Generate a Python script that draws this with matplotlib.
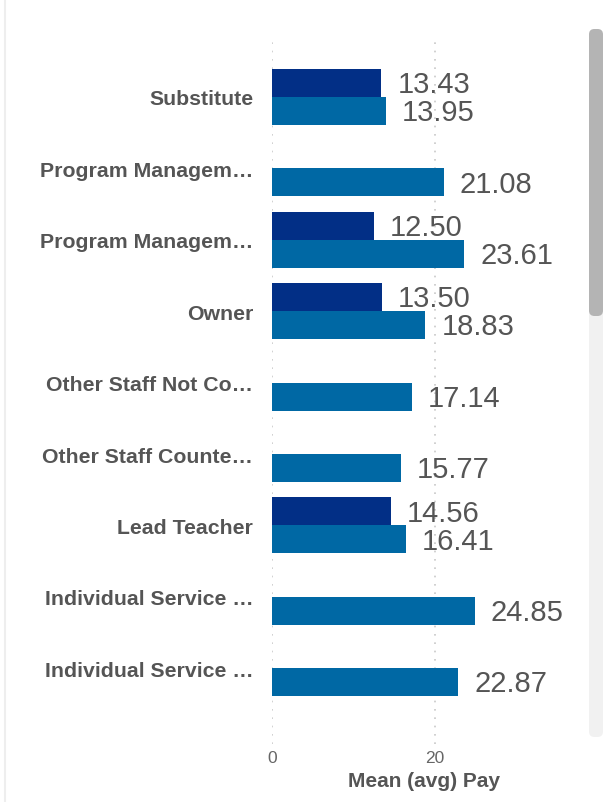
import numpy as np
import matplotlib
matplotlib.use("Agg")
import matplotlib.pyplot as plt
from matplotlib.patches import FancyBboxPatch
from matplotlib.lines import Line2D

plt.rcParams['font.family'] = ['Liberation Sans', 'DejaVu Sans']

categories = [
    "Substitute",
    "Program Managem…",
    "Program Managem…",
    "Owner",
    "Other Staff Not Co…",
    "Other Staff Counte…",
    "Lead Teacher",
    "Individual Service …",
    "Individual Service …",
]
series_a = [13.43, None, 12.50, 13.50, None, None, 14.56, None, None]
series_b = [13.95, 21.08, 23.61, 18.83, 17.14, 15.77, 16.41, 24.85, 22.87]
x_ticks = [0, 20]

color_a = "#022f86"
color_b = "#0068a4"
text_grey = "#555555"

W, H = 610, 803
fig = plt.figure(figsize=(W / 100, H / 100), dpi=100)
ax = fig.add_axes([272 / W, 1 - 745 / H, (575 - 272) / W, (745 - 38) / H])

pos = np.arange(len(categories))
bar_h = 0.392
off = 0.196

for i, (a, b) in enumerate(zip(series_a, series_b)):
    if a is not None:
        ax.barh(pos[i] - off, a, height=bar_h, color=color_a, zorder=2)
        ax.annotate(f"{a:.2f}", xy=(a, pos[i] - off), xytext=(11.5, -0.8),
                    textcoords="offset points", va="center", ha="left",
                    fontsize=21, color=text_grey)
    if b is not None:
        ax.barh(pos[i] + off, b, height=bar_h, color=color_b, zorder=2)
        ax.annotate(f"{b:.2f}", xy=(b, pos[i] + off), xytext=(11.5, -0.8),
                    textcoords="offset points", va="center", ha="left",
                    fontsize=21, color=text_grey)

ax.set_xlim(0, (575 - 272) / 8.15)
ax.set_ylim(9.06, -0.84)
ax.set_yticks(pos)
ax.set_yticklabels(categories, fontsize=15.3, fontweight="bold", color=text_grey)
ax.set_xticks(x_ticks)
ax.set_xticklabels([str(t) for t in x_ticks], fontsize=12.5, color="#666666")
ax.tick_params(axis="y", length=0, pad=13.5)
ax.tick_params(axis="x", length=0, pad=4)
for s in ax.spines.values():
    s.set_visible(False)
ax.grid(axis="x", color="#c8c8c8", linestyle=(0, (1, 4)), linewidth=1.2, zorder=0)
ax.set_axisbelow(True)
ax.set_xlabel("Mean (avg) Pay", fontsize=15, fontweight="bold", color=text_grey, labelpad=5)

# panel edge on the left
fig.add_artist(Line2D([5 / W, 5 / W], [0, 1], transform=fig.transFigure,
                      color="#eeeeee", linewidth=1.5))

# scrollbar track and thumb
track = FancyBboxPatch((589 / W, 1 - 738 / H), 14 / W, (738 - 30) / H,
                       boxstyle="round,pad=0,rounding_size=0.009",
                       transform=fig.transFigure, facecolor="#f1f1f1",
                       edgecolor="none", mutation_aspect=W / H)
thumb = FancyBboxPatch((589 / W, 1 - 317 / H), 14 / W, (317 - 30) / H,
                       boxstyle="round,pad=0,rounding_size=0.009",
                       transform=fig.transFigure, facecolor="#b4b4b4",
                       edgecolor="none", mutation_aspect=W / H)
fig.add_artist(track)
fig.add_artist(thumb)

fig.savefig("out.png", dpi=100)
